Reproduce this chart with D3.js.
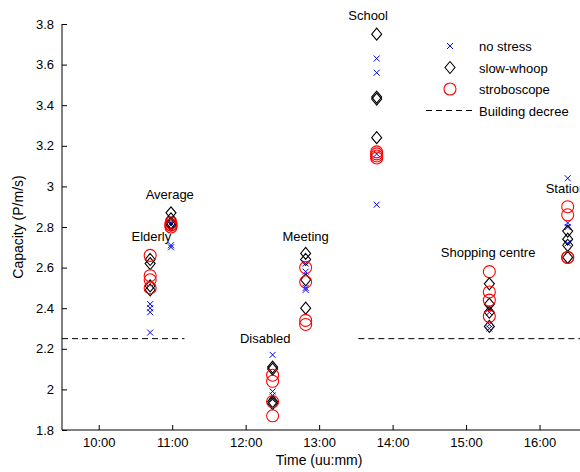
<!DOCTYPE html>
<html>
<head>
<meta charset="utf-8">
<script src="https://cdn.jsdelivr.net/npm/d3@7"></script>
<style>
  body { margin: 0; background: #fff; }
  svg { font-family: "Liberation Sans", Arial, sans-serif; }
</style>
</head>
<body>
<div id="chart"></div>
<script>
// locations and the time (hh:mm) they were measured
const locations = ["Elderly", "Average", "Disabled", "Meeting", "School", "Shopping centre", "Station"];
const times = ["10:42", "10:59", "12:22", "12:49", "13:47", "15:19", "16:23"];

// capacity values (P/m/s), four runs per location
const noStress = [
  [2.42, 2.40, 2.38, 2.28],
  [2.82, 2.81, 2.70, 2.71],
  [2.17, 1.99, 1.97, 1.95],
  [2.62, 2.58, 2.50, 2.49],
  [3.63, 3.56, 3.16, 2.91],
  [2.40, 2.38, 2.32, 2.30],
  [3.04, 2.82, 2.80, 2.72]
];
const slowWhoop = [
  [2.64, 2.62, 2.51, 2.49],
  [2.87, 2.84, 2.82, 2.81],
  [2.11, 2.10, 1.94, 1.93],
  [2.67, 2.64, 2.54, 2.40],
  [3.75, 3.44, 3.43, 3.24],
  [2.52, 2.42, 2.38, 2.31],
  [2.78, 2.74, 2.71, 2.65]
];
const stroboscope = [
  [2.66, 2.56, 2.54, 2.50],
  [2.82, 2.81, 2.81, 2.80],
  [2.07, 2.04, 1.94, 1.87],
  [2.60, 2.53, 2.34, 2.32],
  [3.17, 3.16, 3.15, 3.14],
  [2.58, 2.48, 2.44, 2.36],
  [2.90, 2.86, 2.65, 2.65]
];

// building decree capacity and the stretches where it is drawn
const decreeValue = 2.25;
const decreeSpans = [["9:30", "11:10"], ["13:32", "17:00"]];

// label anchors (time, value) for the location names
const labelTimes = ["10:43", "10:58", "12:16", "12:49", "13:40", "15:18", "16:05"];
const labelValues = [2.68, 2.89, 2.18, 2.68, 3.77, 2.605, 2.92];

const yTicks = [1.8, 2, 2.2, 2.4, 2.6, 2.8, 3, 3.2, 3.4, 3.6, 3.8];
const xTicks = ["10:00", "11:00", "12:00", "13:00", "14:00", "15:00", "16:00"];

const width = 580;
const height = 472;

const parse = d3.timeParse("%H:%M");
const fmt = d3.timeFormat("%H:%M");

const x = d3.scaleTime()
  .domain([parse("9:30"), parse("17:00")])
  .range([62, 613]);
const y = d3.scaleLinear()
  .domain([1.8, 3.8])
  .range([430, 24]);

const svg = d3.select("#chart")
  .append("svg")
  .attr("width", width)
  .attr("height", height);

// axes with inward ticks
const yAxis = svg.append("g")
  .attr("transform", `translate(${x.range()[0]},0)`)
  .call(d3.axisLeft(y).tickValues(yTicks).tickSize(-5).tickPadding(8).tickFormat(d3.format("")));
const xAxis = svg.append("g")
  .attr("transform", `translate(0,${y.range()[0]})`)
  .call(d3.axisBottom(x).tickValues(xTicks.map(parse)).tickSize(-5).tickPadding(8).tickFormat(fmt));

[yAxis, xAxis].forEach(g => {
  g.select(".domain").attr("stroke", "#000");
  g.selectAll(".tick line").attr("stroke", "#000");
  g.selectAll(".tick text").attr("fill", "#000").style("font-size", "13px");
});
yAxis.select(".domain").attr("d", `M0,${y(3.8)}V${y(1.8)}`);
xAxis.select(".domain").attr("d", `M${x.range()[0]},0H${width}`);

svg.append("text")
  .attr("transform", `translate(23,${(y(1.8) + y(3.8)) / 2}) rotate(-90)`)
  .attr("text-anchor", "middle")
  .style("font-size", "14px")
  .text("Capacity (P/m/s)");

svg.append("text")
  .attr("x", x(parse("13:00")))
  .attr("y", 465)
  .attr("text-anchor", "middle")
  .style("font-size", "14px")
  .text("Time (uu:mm)");

// building decree line
svg.append("g")
  .selectAll("line")
  .data(decreeSpans)
  .join("line")
  .attr("x1", d => x(parse(d[0])))
  .attr("x2", d => x(parse(d[1])))
  .attr("y1", y(decreeValue))
  .attr("y2", y(decreeValue))
  .attr("stroke", "#000")
  .attr("stroke-dasharray", "6,4");

const flat = arr => arr.flatMap((vals, i) => vals.map(v => ({ t: parse(times[i]), v })));

const crossPath = "M-3,-3L3,3M-3,3L3,-3";
const diamondPath = "M0,-6L5,0L0,6L-5,0Z";

function drawCross(g) {
  g.append("path").attr("d", crossPath).attr("stroke", "#0000ff").attr("fill", "none");
}
function drawDiamond(g) {
  g.append("path").attr("d", diamondPath).attr("stroke", "#000").attr("fill", "none").attr("stroke-width", 1.1);
}
function drawCircle(g) {
  g.append("circle").attr("r", 6).attr("stroke", "#ff0000").attr("fill", "none").attr("stroke-width", 1.1);
}

const series = [
  { name: "no stress", data: noStress, draw: drawCross },
  { name: "slow-whoop", data: slowWhoop, draw: drawDiamond },
  { name: "stroboscope", data: stroboscope, draw: drawCircle }
];

series.forEach(s => {
  svg.append("g")
    .selectAll("g")
    .data(flat(s.data))
    .join("g")
    .attr("transform", d => `translate(${x(d.t)},${y(d.v)})`)
    .each(function () { s.draw(d3.select(this)); });
});

// location labels
svg.append("g")
  .selectAll("text")
  .data(locations)
  .join("text")
  .attr("x", (d, i) => x(parse(labelTimes[i])))
  .attr("y", (d, i) => y(labelValues[i]) - 10)
  .attr("text-anchor", (d, i) => i === 6 ? "start" : "middle")
  .style("font-size", "13px")
  .text(d => d);

// legend
const legend = svg.append("g").attr("transform", "translate(450,46)");
series.forEach((s, i) => {
  const row = legend.append("g").attr("transform", `translate(0,${i * 21.5})`);
  s.draw(row);
  row.append("text").attr("x", 29).attr("y", 5).style("font-size", "13px").text(s.name);
});
const dRow = legend.append("g").attr("transform", `translate(0,${3 * 21.5})`);
dRow.append("line")
  .attr("x1", -24).attr("x2", 22)
  .attr("stroke", "#000").attr("stroke-dasharray", "6,4");
dRow.append("text").attr("x", 29).attr("y", 5).style("font-size", "13px").text("Building decree");
</script>
</body>
</html>
